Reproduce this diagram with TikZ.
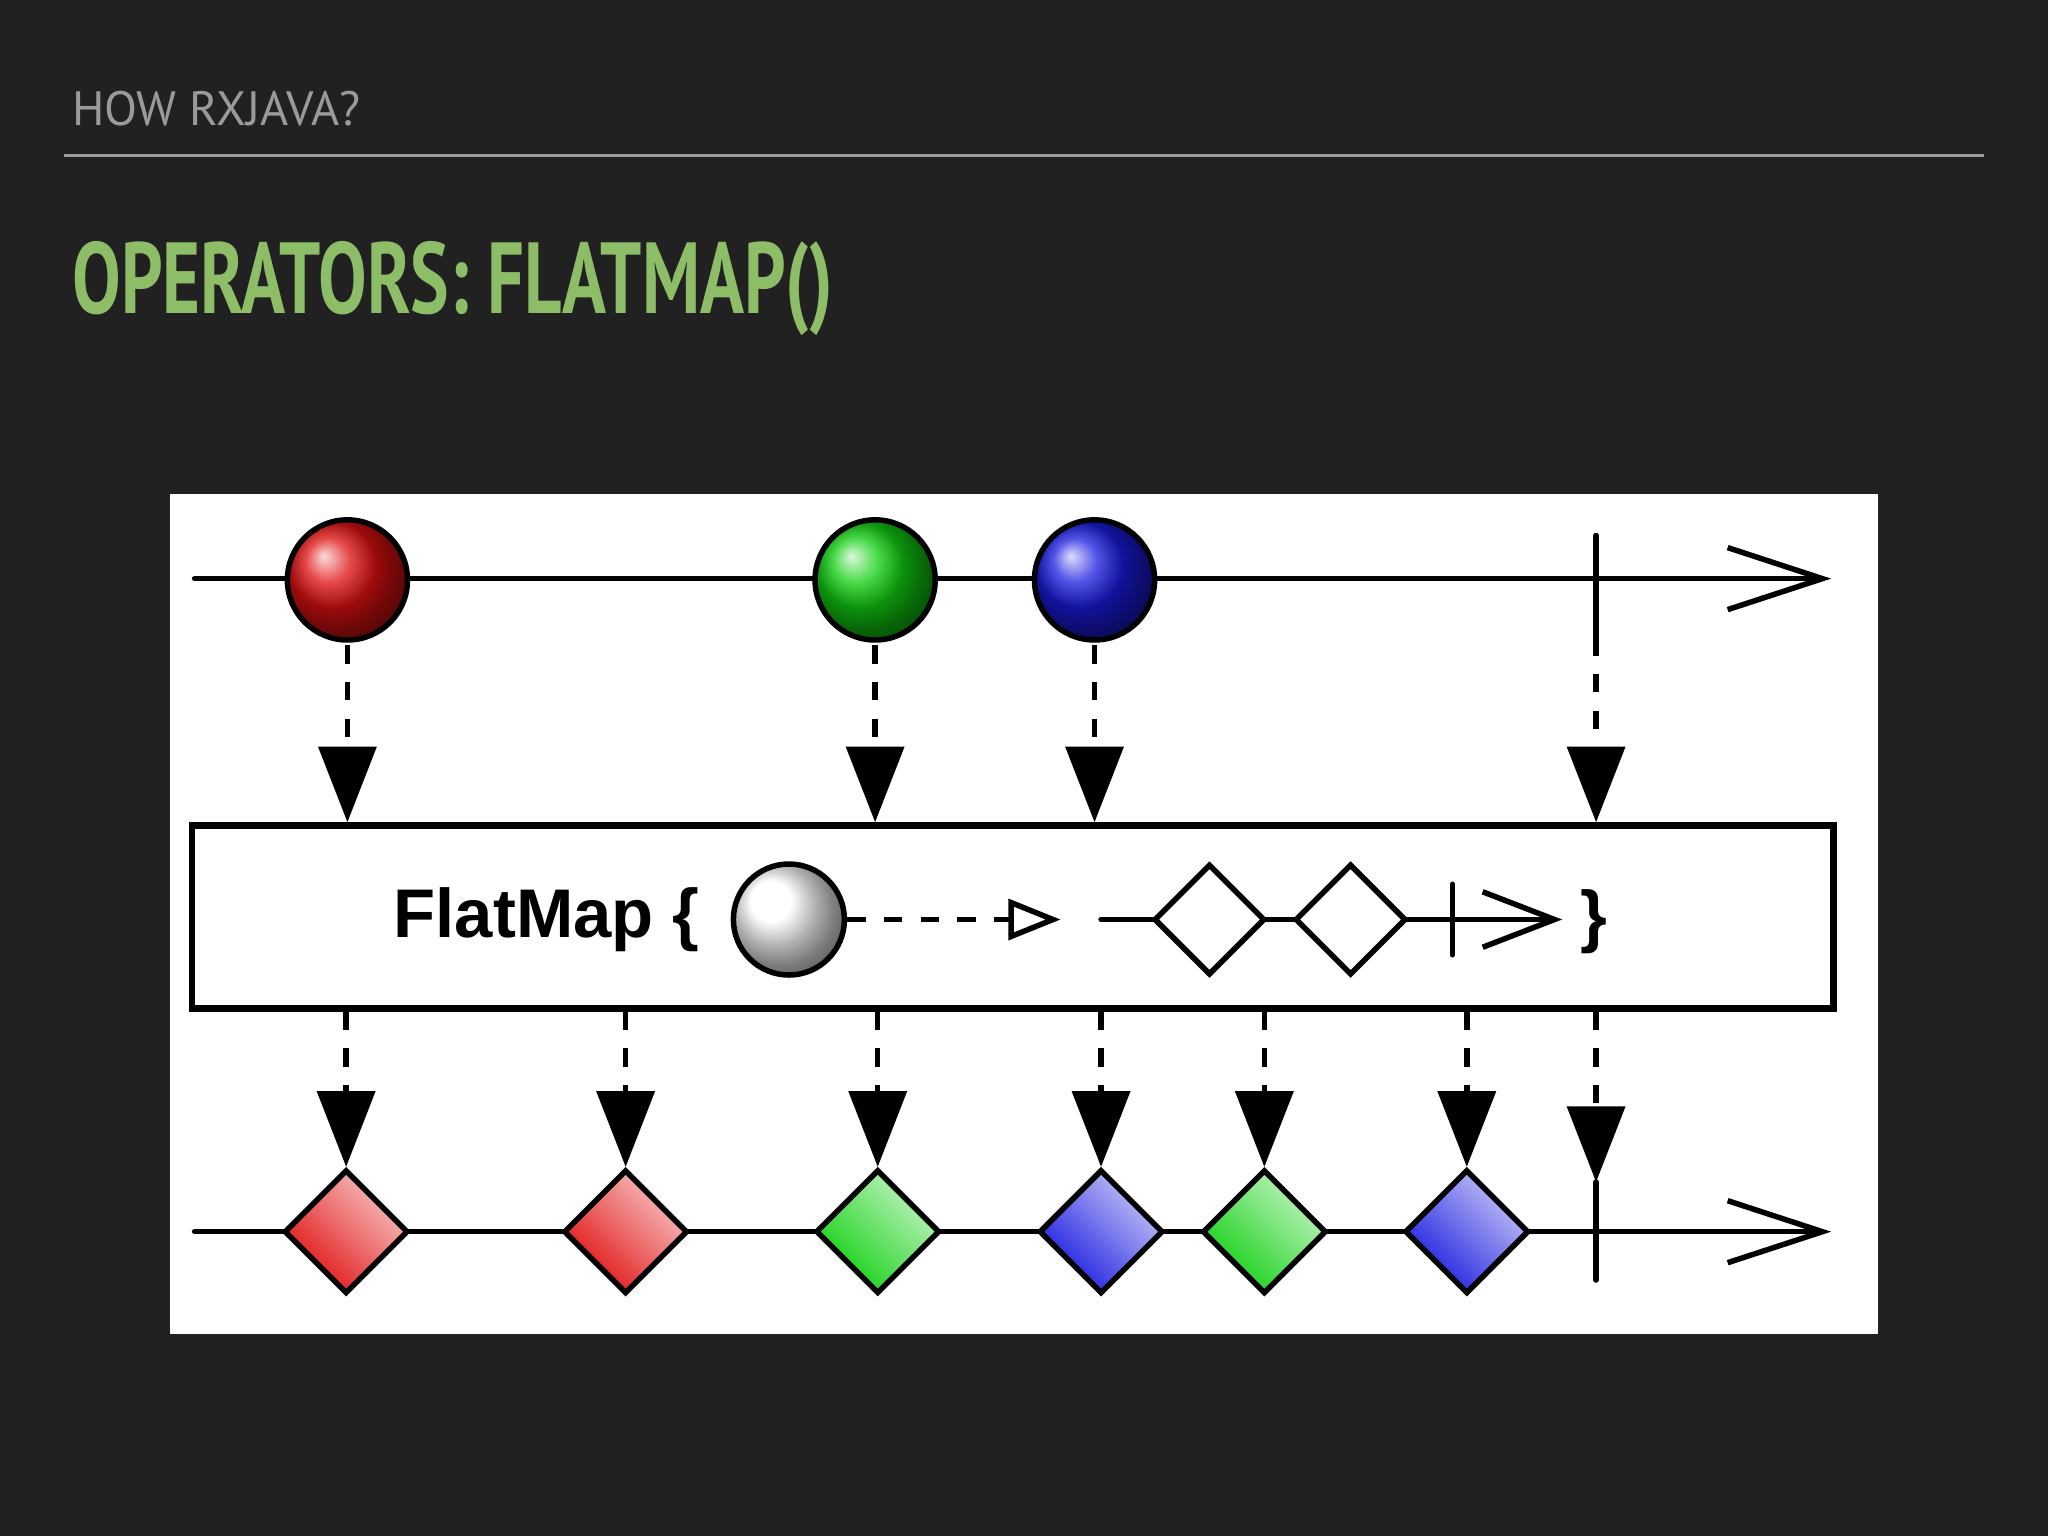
\documentclass[tikz,border=0pt]{standalone}
\usepackage{fontspec}
\setmainfont{Liberation Sans}
\usetikzlibrary{arrows.meta,shapes.geometric}
\definecolor{bg}{HTML}{212122}
\definecolor{hdr}{HTML}{9A9A9A}
\definecolor{ttl}{HTML}{8DBE67}
\definecolor{mgreen}{HTML}{10D010}
\definecolor{mblue}{HTML}{1A1AE0}
\definecolor{mred}{HTML}{E01010}
\tikzset{
  ln/.style={line width=2.4pt, line cap=round},
  tl/.style={ln, -{Straight Barb[length=1.45cm,width=0.95cm,line width=2.4pt]}},
  ball/.style={circle, draw, line width=2.4pt, minimum size=1.84cm, inner sep=0pt},
  dia/.style={diamond, draw, line width=2.4pt, minimum size=1.9cm, inner sep=0pt, aspect=1},
  dsh/.style={line width=2.4pt, dash pattern=on 8pt off 8pt, -{Triangle[length=1.16cm,width=0.88cm]}},
  cd/.style={dia, shading=axis, left color=#1, right color=#1!25!white, shading angle=135},
}
\begin{document}
\begin{tikzpicture}[x=0.02cm,y=-0.02cm]
\fill[bg] (0,0) rectangle (1568,1176);
\node[anchor=west, text=hdr, font=\fontspec{PT Sans}\fontsize{21}{21}\selectfont, inner sep=0pt] (hdr) at (55,83) {HOW RXJAVA?};
\draw[hdr, line width=1.3pt] (49,119) -- (1519,119);
\node[anchor=west, text=ttl, inner sep=0pt] (ttl) at (55,221) {\scalebox{0.72}[1]{\fontspec{PT Sans}\bfseries\fontsize{44}{44}\selectfont OPERATORS: FLATMAP()}};
\fill[white] (130,378) rectangle (1438,1021);
% top line
\coordinate (t0) at (149,443); \coordinate (t1) at (1402,443);
\draw[tl] (t0) -- (t1);
\node[ball, ball color=mred] (c1) at (266,444) {};
\node[ball, ball color=mgreen] (c2) at (670,444) {};
\node[ball, ball color=mblue] (c3) at (838,444) {};
\coordinate (tk1a) at (1222,410); \coordinate (tk1b) at (1222,488);
\draw[ln] (tk1a) -- (tk1b);
% box
\node[draw, line width=2.8pt, minimum width=25.14cm, minimum height=2.8cm, inner sep=0pt] (box) at (775.5,702) {};
\foreach \n in {c1,c2,c3} \draw[dsh] ([yshift=-1cm]\n.center) -- (\n |- box.north);
\draw[dsh] (tk1b) -- (tk1b |- box.north);
% inside
\node[anchor=east, font=\bfseries\fontsize{30}{30}\selectfont, inner sep=0pt] (fm) at (536,704) {FlatMap \{};
\node[ball, ball color=white, minimum size=1.7cm] (wc) at (604,704) {};
\coordinate (oa) at (812,704);
\draw[line width=2.4pt, dash pattern=on 8pt off 8pt, -{Triangle[open,length=0.8cm,width=0.62cm,line width=2.4pt]}] (wc.east) -- (oa);
\coordinate (m0) at (843,704); \coordinate (m1) at (1196,704);
\draw[ln, -{Straight Barb[length=1.1cm,width=0.85cm,line width=2.4pt]}] (m0) -- (m1);
\node[dia, fill=white, minimum size=1.7cm] (d1) at (926,704) {};
\node[dia, fill=white, minimum size=1.7cm] (d2) at (1034,704) {};
\coordinate (mt0) at (1112,677); \coordinate (mt1) at (1112,731);
\draw[ln] (mt0) -- (mt1);
\node[font=\bfseries\fontsize{30}{30}\selectfont, inner sep=0pt] (cb) at (1220,706) {\}};
% bottom line
\coordinate (b0) at (149,943); \coordinate (b1) at (1402,943);
\draw[tl] (b0) -- (b1);
\node[cd=mred] (e1) at (265,943) {};
\node[cd=mred] (e2) at (479,943) {};
\node[cd=mgreen] (e3) at (672,943) {};
\node[cd=mblue] (e4) at (843,943) {};
\node[cd=mgreen] (e5) at (968,943) {};
\node[cd=mblue] (e6) at (1123,943) {};
\coordinate (tk2a) at (1222,905); \coordinate (tk2b) at (1222,980);
\draw[ln] (tk2a) -- (tk2b);
\foreach \n in {e1,e2,e3,e4,e5,e6} \draw[dsh] (\n |- box.south) -- (\n.north);
\draw[dsh] (tk2a |- box.south) -- (tk2a);
\end{tikzpicture}
\end{document}
